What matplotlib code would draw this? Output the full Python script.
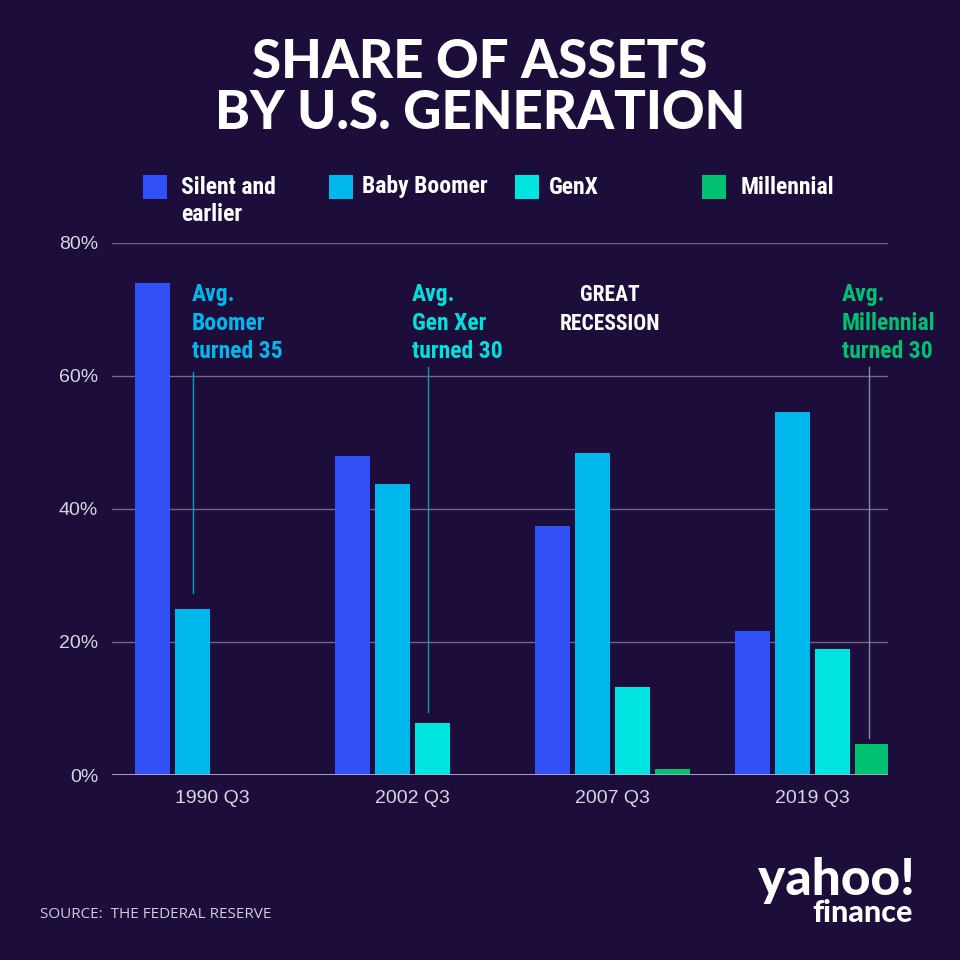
import matplotlib
matplotlib.use("Agg")
import matplotlib.pyplot as plt
from matplotlib.patches import Rectangle
import numpy as np

# ---- data ----
periods = ["1990 Q3", "2002 Q3", "2007 Q3", "2019 Q3"]
generations = ["Silent and\nearlier", "Baby Boomer", "GenX", "Millennial"]
silent = [74.0, 48.0, 37.4, 21.7]
boomer = [25.0, 43.7, 48.4, 54.6]
genx = [0.0, 7.8, 13.2, 18.9]
millennial = [0.0, 0.0, 0.9, 4.7]
yticks = [0, 20, 40, 60, 80]
ytick_labels = ["0%", "20%", "40%", "60%", "80%"]

BG = "#1c0d3a"
colors = ["#3150f5", "#00b8ec", "#00e5e0", "#00c172"]
NARROW = ["Roboto Condensed", "Archivo Narrow", "DejaVu Sans"]
TITLE = ["Lato", "DejaVu Sans"]
LOGO = ["Lato", "DejaVu Sans"]

fig = plt.figure(figsize=(9.6, 9.6), dpi=100, facecolor=BG)
ax = fig.add_axes([112/960, 1-775/960, 776/960, 532/960], facecolor=BG)

x = np.arange(len(periods))
series = [silent, boomer, genx, millennial]
offsets = [-0.3, -0.1, 0.1, 0.3]
for vals, off, c in zip(series, offsets, colors):
    ax.bar(x + off, vals, width=0.175, color=c, zorder=3)

ax.set_xlim(-0.5025, 3.3775)
ax.set_ylim(0, 80)
ax.set_yticks(yticks)
ax.set_yticklabels(ytick_labels)
ax.set_xticks(x)
ax.set_xticklabels(periods)
for s in ax.spines.values():
    s.set_visible(False)
ax.tick_params(axis="both", length=0, colors="#d8d4e2", labelsize=14)
ax.tick_params(axis="y", pad=10)
ax.tick_params(axis="x", pad=11)
for lab in ax.get_xticklabels() + ax.get_yticklabels():
    lab.set_family(["Liberation Sans", "DejaVu Sans"])
ax.yaxis.grid(True, color="#6f6589", linewidth=1, zorder=0)
ax.axhline(0, color="#b3abc6", linewidth=2, zorder=4)

# annotations
ann_color_boomer = "#00b8ec"
ann_color_genx = "#00e0dc"
ann_color_mill = "#00c172"
ax.plot([-0.099, -0.099], [27.4, 60.6], color="#0a9cc8", lw=1, zorder=2)
ax.plot([1.0775, 1.0775], [9.5, 61.4], color="#0a9ca8", lw=1, zorder=2)
ax.plot([3.2825, 3.2825], [5.6, 61.4], color="#8d8aa8", lw=1, zorder=2)

ann_kw = dict(fontsize=17, fontweight="bold", family=NARROW, va="top", ha="left", linespacing=1.32)
ax.text(-0.1025, 74.0, "Avg.\nBoomer\nturned 35", color=ann_color_boomer, **ann_kw)
ax.text(0.9975, 74.0, "Avg.\nGen Xer\nturned 30", color=ann_color_genx, **ann_kw)
ax.text(3.1475, 74.0, "Avg.\nMillennial\nturned 30", color=ann_color_mill, **ann_kw)
ax.text(1.9875, 73.8, "GREAT\nRECESSION", color="white", fontsize=15.5, fontweight="bold",
        family=NARROW, va="top", ha="center", linespacing=1.38)

# title
fig.text(0.5, 1-38/960, "SHARE OF ASSETS\nBY U.S. GENERATION", color="white", fontsize=38,
         fontweight="black", family=TITLE, ha="center", va="top", linespacing=1.05)

# legend
sq_x = [143, 329, 515, 702]
tx_x = [181, 362, 549, 741]
for name, c, sx, tx in zip(generations, colors, sq_x, tx_x):
    fig.add_artist(Rectangle((sx/960, 1-199/960), 24/960, 24/960, transform=fig.transFigure,
                             facecolor=c, edgecolor="none"))
    fig.text(tx/960, 1-175.5/960, name, color="white", fontsize=17, fontweight="bold",
             family=NARROW, ha="left", va="top", linespacing=1.26)

# source
fig.text(40/960, 1-918/960, "SOURCE:  THE FEDERAL RESERVE", color="#d0cce0", fontsize=11,
         family=["Open Sans", "DejaVu Sans"], ha="left", va="baseline")

# logo
fig.text(915/960, 1-895/960, "yahoo!", color="white", fontsize=37, fontweight="black",
         family=LOGO, ha="right", va="baseline")
fig.text(913/960, 1-922/960, "finance", color="white", fontsize=22, fontweight="black",
         family=LOGO, ha="right", va="baseline")

fig.savefig("out.png", dpi=100, facecolor=BG)
